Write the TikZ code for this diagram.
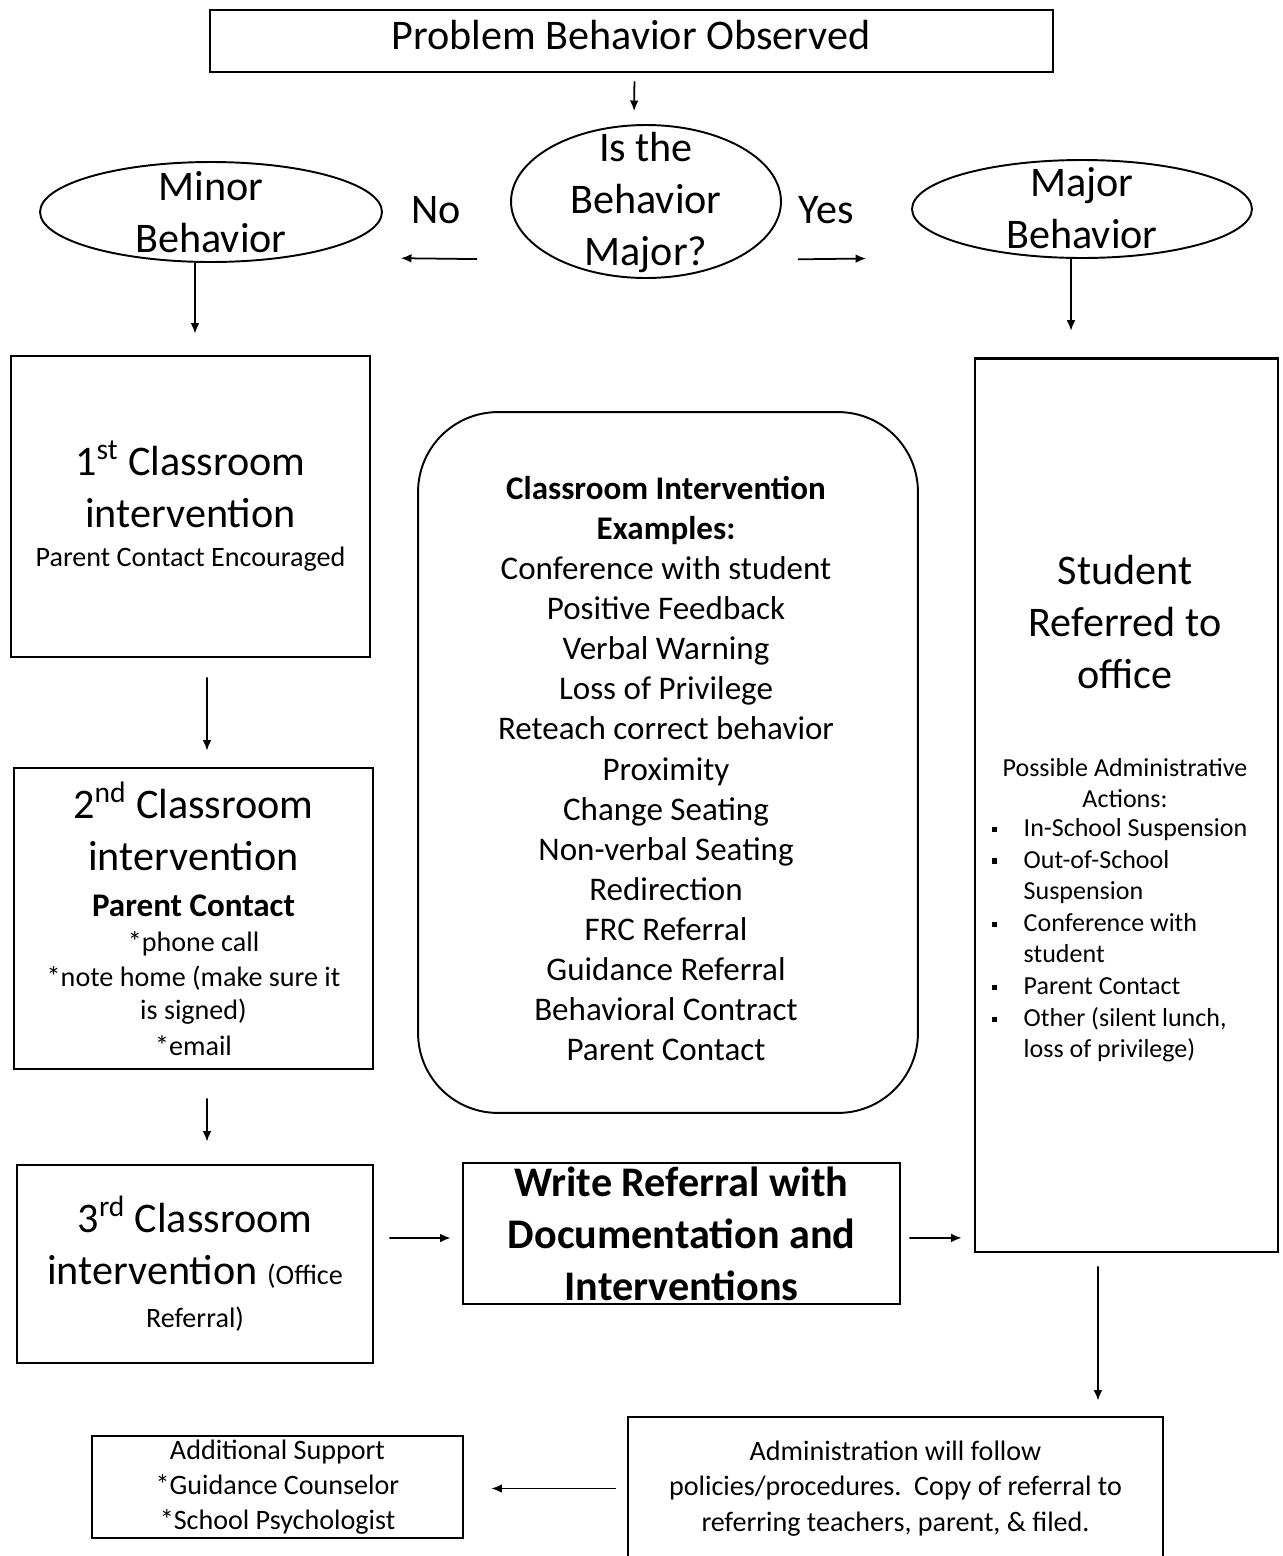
\documentclass[tikz,border=0pt]{standalone}
\usepackage{fontspec}
\setmainfont{Carlito}
\usetikzlibrary{shapes.geometric,arrows.meta}
\newcommand{\szL}{\fontsize{24}{29.6}\selectfont}
\newcommand{\szM}{\fontsize{18.8}{22.8}\selectfont}
\newcommand{\szS}{\fontsize{16}{20}\selectfont}
\newcommand{\szXS}{\fontsize{14.8}{18}\selectfont}
\newcommand{\sqbul}{\makebox[19pt][l]{\hspace{1pt}\raisebox{2.5pt}{\rule{3pt}{3pt}}}}

\begin{document}
\begin{tikzpicture}[x=0.02cm,y=-0.02cm,
	box/.style={draw,line width=1.6pt,inner sep=0pt,align=center},
	oval/.style={draw,ellipse,line width=1.1pt,inner sep=0pt},
	arr/.style={-{Latex[length=6pt,width=5pt]},line width=1pt}]
\useasboundingbox (0,0) rectangle (1283,1556);

	\node[box,minimum width=16.86cm,minimum height=1.24cm] (obs) at (631.5,41) {};
	\node[font=\szL] (obstxt) at (631,35) {Problem Behavior Observed};
	\node[oval,minimum width=5.4cm,minimum height=3.06cm] (ask) at (646,201.5) {};
	\node[align=center,font=\szL] (asktxt) at (646,202) {Is the\\Behavior\\Major?};
	\node[oval,minimum width=6.84cm,minimum height=2cm] (minor) at (211,212) {};
	\node[align=center,font=\szL] (minortxt) at (211,212) {Minor\\Behavior};
	\node[oval,minimum width=6.8cm,minimum height=1.96cm] (major) at (1082,209) {};
	\node[align=center,font=\szL] (majortxt) at (1082,208) {Major\\Behavior};
	\node[font=\szL] (nolbl) at (436,210) {No};
	\node[font=\szL] (yeslbl) at (826,210) {Yes};

	\node[box,minimum width=7.18cm,minimum height=6.02cm,font=\szL] (first) at (190.5,506.5)
		{1\textsuperscript{st} Classroom\\intervention\\[-7.4pt]{\szS Parent Contact Encouraged}};
	\node[box,minimum width=7.18cm,minimum height=6.02cm,font=\szL] (second) at (193.5,918.5)
		{2\textsuperscript{nd} Classroom\\intervention\\[-3.4pt]{\szM\bfseries Parent Contact}\\[-9.7pt]{\szS *phone call}\\[-9.7pt]{\szS *note home (make sure it}\\[-10.8pt]{\szS is signed)}\\[-9.1pt]{\szS *email}};
	\node[box,minimum width=7.12cm,minimum height=3.96cm,font=\szL] (third) at (195,1264)
		{3\textsuperscript{rd} Classroom\\intervention {\szS(Office}\\[-5.1pt]{\szS Referral)}};
	\node[box,minimum width=8.74cm,minimum height=2.82cm,font=\szL\bfseries] (write) at (681.5,1233.5)
		{Write Referral with\\Documentation and\\Interventions};

	\node[box,line width=1.1pt,rounded corners=1.6cm,minimum width=10cm,minimum height=14.02cm] (tips) at (668,762.5) {};
	\node[align=center,font=\szM] (tipstxt) at (666,768.5)
		{\textbf{Classroom Intervention}\\\textbf{Examples:}\\Conference with student\\Positive Feedback\\Verbal Warning\\Loss of Privilege\\Reteach correct behavior\\Proximity\\Change Seating\\Non-verbal Seating\\Redirection\\FRC Referral\\Guidance Referral\\Behavioral Contract\\Parent Contact};

	\node[box,minimum width=6.06cm,minimum height=17.88cm] (office) at (1126.5,805) {};
	\node[align=center,font=\szL] (officetxt) at (1125,622) {Student\\Referred to\\office};
	\node[align=center,font=\szXS] (acthead) at (1125,783) {Possible Administrative\\Actions:};
	\node[align=left,font=\szXS,anchor=north west,inner sep=0pt] (actlist) at (990,818)
		{\sqbul In-School Suspension\\
		\sqbul Out-of-School\\
		\hspace*{19pt}Suspension\\
		\sqbul Conference with\\
		\hspace*{19pt}student\\
		\sqbul Parent Contact\\
		\sqbul Other (silent lunch,\\
		\hspace*{19pt}loss of privilege)};

	\node[box,minimum width=10.7cm,minimum height=2.86cm,font=\szS] (admin) at (895.5,1488.5)
		{Administration will follow\\policies/procedures.\ \ Copy of referral to\\referring teachers, parent, \& filed.};
	\node[box,minimum width=7.42cm,minimum height=2.04cm,font=\szS] (support) at (277.5,1487)
		{Additional Support\\*Guidance Counselor\\*School Psychologist};

	\draw[arr,shorten <=0.16cm,shorten >=0.26cm] ([xshift=0.06cm]obs.south) -- ([xshift=-0.24cm]ask.north);
	\draw[arr,shorten <=0.66cm,shorten >=0.36cm] ([yshift=-1.16cm]ask.west) -- ([yshift=-0.92cm]minor.east);
	\draw[arr,shorten <=0.32cm,shorten >=0.9cm] ([yshift=-1.16cm]ask.east) -- ([yshift=-0.98cm]major.west);
	\draw[arr,shorten >=0.42cm] ([xshift=-0.32cm]minor.south) -- ([xshift=0.09cm]first.north);
	\draw[arr,shorten >=0.52cm] ([xshift=-0.22cm]major.south) -- ([xshift=-1.11cm]office.north);
	\draw[arr,shorten <=0.38cm,shorten >=0.32cm] ([xshift=0.33cm]first.south) -- ([xshift=0.27cm]second.north);
	\draw[arr,shorten <=0.56cm,shorten >=0.44cm] ([xshift=0.27cm]second.south) -- ([xshift=0.24cm]third.north);
	\draw[arr,shorten <=0.3cm,shorten >=0.22cm] ([yshift=0.52cm]third.east) -- ([yshift=-0.09cm]write.west);
	\draw[arr,shorten <=0.16cm,shorten >=0.24cm] ([yshift=-0.09cm]write.east) -- ([yshift=-8.66cm]office.west);
	\draw[arr,shorten <=0.26cm,shorten >=0.3cm] ([xshift=-0.57cm]office.south) -- ([xshift=4.05cm]admin.north);
	\draw[arr,shorten <=0.22cm,shorten >=0.54cm] (admin.west) -- (admin.west -| support.east);
\end{tikzpicture}
\end{document}
